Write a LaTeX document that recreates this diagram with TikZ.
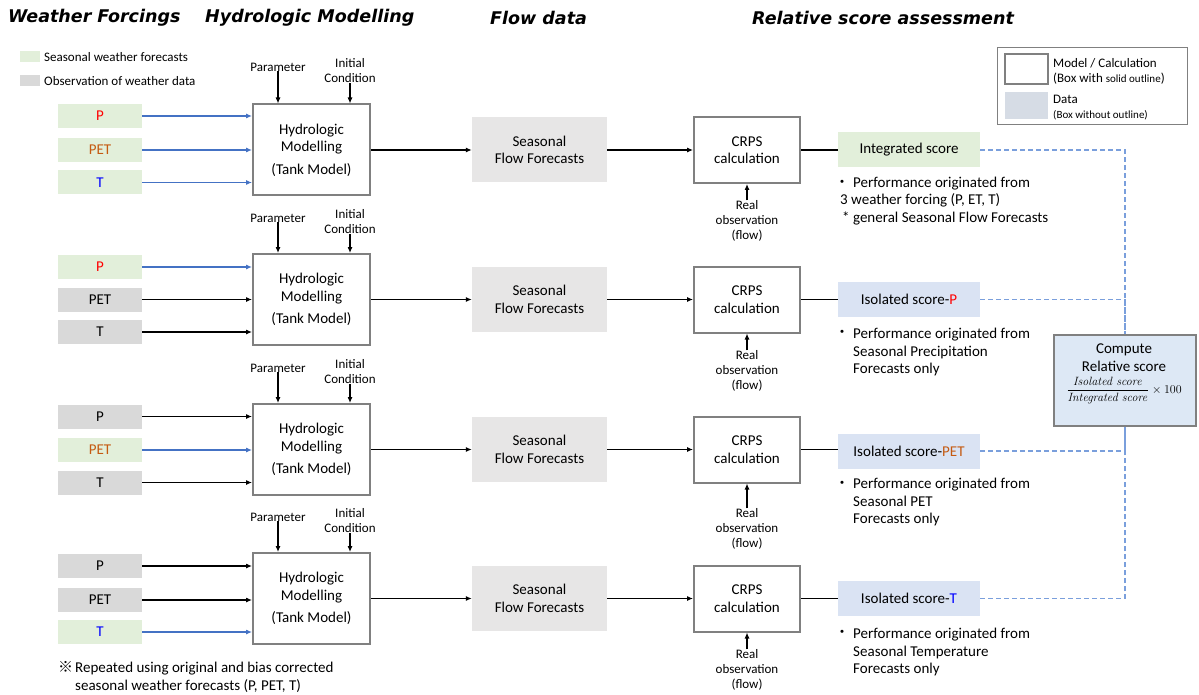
\documentclass[tikz,border=0pt]{standalone}
\usepackage[no-math]{fontspec}
\setmainfont{Carlito}
\newfontfamily\titlefont{DejaVu Sans}
\newfontfamily\cjk{Noto Sans CJK JP}
\usepackage{amsmath}
\usetikzlibrary{arrows.meta}

\definecolor{fcgreen}{HTML}{E2EFDA}
\definecolor{obsgray}{HTML}{D9D9D9}
\definecolor{flowgray}{HTML}{E7E6E6}
\definecolor{scoreblue}{HTML}{DAE3F3}
\definecolor{cmpblue}{HTML}{DDE8F5}
\definecolor{datablue}{HTML}{D6DCE5}
\definecolor{boxgray}{HTML}{808080}
\definecolor{arrblue}{HTML}{4472C4}
\definecolor{dashblue}{HTML}{7A9FDC}
\definecolor{pcol}{HTML}{FF0000}
\definecolor{petcol}{HTML}{C55A11}
\definecolor{tcol}{HTML}{0000FF}

\newcommand{\bodyfont}{\fontsize{15}{17.5}\selectfont}
\newcommand{\smallfont}{\fontsize{13}{15}\selectfont}
\newcommand{\tinyfont}{\fontsize{11}{13}\selectfont}

\begin{document}
\begin{tikzpicture}[x=1pt,y=-1pt,
	every node/.style={font=\bodyfont,inner sep=0pt},
	inbox/.style={rectangle,minimum width=84pt,minimum height=24pt},
	fcst/.style={inbox,fill=fcgreen},
	obs/.style={inbox,fill=obsgray},
	model/.style={rectangle,draw=boxgray,line width=2pt,fill=white,align=center},
	hydro/.style={model,minimum width=117pt,minimum height=91pt},
	crps/.style={model,minimum width=106pt,minimum height=66pt},
	flow/.style={rectangle,fill=flowgray,minimum width=135pt,minimum height=65pt,align=center},
	score/.style={rectangle,fill=scoreblue,minimum width=142pt,minimum height=35pt},
	lbl/.style={font=\smallfont,align=center},
	bullet/.style={anchor=west,align=left},
	title/.style={anchor=west,font=\titlefont\bfseries\itshape\fontsize{17.5}{20}\selectfont},
	link/.style={-{Latex[length=6pt,width=5pt]},line width=1.1pt},
	fa/.style={link,arrblue},
	dline/.style={dash pattern=on 5pt off 3pt,dashblue,line width=1.2pt}
]

	\useasboundingbox (0,0) rectangle (1199,695);

	\node 	(tw)	at	(8,18)	[title]{Weather Forcings};
	\node 	(th)	at	(205,18)	[title]{Hydrologic Modelling};
	\node 	(tf)	at	(490,18)	[title]{Flow data};
	\node 	(tr)	at	(752,18)	[title]{Relative score assessment};

	\node 	(sw1)	at	(30,56.5)	[rectangle,fill=fcgreen,minimum width=20pt,minimum height=11pt]{};
	\node 	(sw1t)	at	(44,57)	[anchor=west,font=\smallfont]{Seasonal weather forecasts};
	\node 	(sw2)	at	(30,80.5)	[rectangle,fill=obsgray,minimum width=20pt,minimum height=11pt]{};
	\node 	(sw2t)	at	(44,81)	[anchor=west,font=\smallfont]{Observation of weather data};

	\node 	(lgbox)	at	(1092,86.5)	[rectangle,draw=boxgray,line width=1pt,minimum width=190pt,minimum height=77pt]{};
	\node 	(lgm)	at	(1026.5,69)	[rectangle,draw=boxgray,line width=2pt,minimum width=43pt,minimum height=30pt]{};
	\node 	(lgd)	at	(1026.5,105.5)	[rectangle,fill=datablue,minimum width=43pt,minimum height=27pt]{};
	\node 	(lgmt)	at	(1053,71)	[anchor=west,align=left,font=\smallfont]{Model / Calculation\\(Box with {\tinyfont solid outline})};
	\node 	(lgdt)	at	(1053,108)	[anchor=west,align=left,font=\smallfont]{Data\\{\tinyfont (Box without outline)}};

	% forcing set 1
	\node 	(p1)	at	(100,116)	[fcst]{\textcolor{pcol}{P}};
	\node 	(pet1)	at	(100,150)	[fcst]{\textcolor{petcol}{PET}};
	\node 	(t1)	at	(100,182.5)	[fcst]{\textcolor{tcol}{T}};
	\node 	(h1)	at	(311.5,150)	[hydro]{Hydrologic\\Modelling\\[5pt](Tank Model)};
	\node 	(par1)	at	(278,67)	[lbl]{Parameter};
	\node 	(ic1)	at	(350,71)	[lbl]{Initial\\Condition};
	\node 	(f1)	at	(539.5,150)	[flow]{Seasonal\\Flow Forecasts};
	\node 	(c1)	at	(747,150)	[crps]{CRPS\\calculation};
	\node 	(ro1)	at	(747,221)	[lbl]{Real\\observation\\(flow)};
	\node 	(s1)	at	(909,150)	[score,fill=fcgreen]{Integrated score};
	\node 	(d1)	at	(842,184)	{\cjk ・};
	\node 	(b1)	at	(840,201)	[bullet]{\hspace*{13pt}Performance originated from\\3 weather forcing (P, ET, T)\\\hspace*{2pt}* general Seasonal Flow Forecasts};

	% forcing set 2
	\node 	(p2)	at	(100,267)	[fcst]{\textcolor{pcol}{P}};
	\node 	(pet2)	at	(100,299.5)	[obs]{PET};
	\node 	(t2)	at	(100,332)	[obs]{T};
	\node 	(h2)	at	(311.5,299.5)	[hydro]{Hydrologic\\Modelling\\[5pt](Tank Model)};
	\node 	(par2)	at	(278,218)	[lbl]{Parameter};
	\node 	(ic2)	at	(350,221.5)	[lbl]{Initial\\Condition};
	\node 	(f2)	at	(539.5,299.5)	[flow]{Seasonal\\Flow Forecasts};
	\node 	(c2)	at	(747,299.5)	[crps]{CRPS\\calculation};
	\node 	(ro2)	at	(747,371)	[lbl]{Real\\observation\\(flow)};
	\node 	(s2)	at	(909,299.5)	[score]{Isolated score-\textcolor{pcol}{P}};
	\node 	(d2)	at	(842,334)	{\cjk ・};
	\node 	(b2)	at	(853,352)	[bullet]{Performance originated from\\Seasonal Precipitation\\Forecasts only};

	% forcing set 3
	\node 	(p3)	at	(100,416.5)	[obs]{P};
	\node 	(pet3)	at	(100,450)	[fcst]{\textcolor{petcol}{PET}};
	\node 	(t3)	at	(100,482.5)	[obs]{T};
	\node 	(h3)	at	(311.5,449.5)	[hydro]{Hydrologic\\Modelling\\[5pt](Tank Model)};
	\node 	(par3)	at	(278,368)	[lbl]{Parameter};
	\node 	(ic3)	at	(350,371.5)	[lbl]{Initial\\Condition};
	\node 	(f3)	at	(539.5,449.5)	[flow]{Seasonal\\Flow Forecasts};
	\node 	(c3)	at	(747,449.5)	[crps]{CRPS\\calculation};
	\node 	(ro3)	at	(747,529)	[lbl]{Real\\observation\\(flow)};
	\node 	(s3)	at	(909,451)	[score]{Isolated score-\textcolor{petcol}{PET}};
	\node 	(d3)	at	(842,485)	{\cjk ・};
	\node 	(b3)	at	(853,502)	[bullet]{Performance originated from\\Seasonal PET\\Forecasts only};

	% forcing set 4
	\node 	(p4)	at	(100,566)	[obs]{P};
	\node 	(pet4)	at	(100,600)	[obs]{PET};
	\node 	(t4)	at	(100,632)	[fcst]{\textcolor{tcol}{T}};
	\node 	(h4)	at	(311.5,598.5)	[hydro]{Hydrologic\\Modelling\\[5pt](Tank Model)};
	\node 	(par4)	at	(278,517)	[lbl]{Parameter};
	\node 	(ic4)	at	(350,520.5)	[lbl]{Initial\\Condition};
	\node 	(f4)	at	(539.5,598.5)	[flow]{Seasonal\\Flow Forecasts};
	\node 	(c4)	at	(747,598.5)	[crps]{CRPS\\calculation};
	\node 	(ro4)	at	(747,670)	[lbl]{Real\\observation\\(flow)};
	\node 	(s4)	at	(909,598.5)	[score]{Isolated score-\textcolor{tcol}{T}};
	\node 	(d4)	at	(842,634)	{\cjk ・};
	\node 	(b4)	at	(853,652)	[bullet]{Performance originated from\\Seasonal Temperature\\Forecasts only};

	\node 	(cmp)	at	(1125,380.5)	[model,fill=cmpblue,minimum width=142pt,minimum height=91pt]{};
	\node 	(cmpt)	at	(1124,374)	[align=center]{Compute\\Relative score\\[5pt]{\fontsize{13}{15}\selectfont$\dfrac{\mathit{Isolated\ score}}{\mathit{Integrated\ score}}\times 100$}};

	\node 	(rp)	at	(58,677)	[anchor=west,align=left]{{\cjk ※}\hspace{2pt}Repeated using original and bias corrected\\\phantom{{\cjk ※}\hspace{2pt}}seasonal weather forecasts (P, PET, T)};

	\draw[fa]	(p1)	--	(p1 -| h1.west);
	\draw[fa]	(pet1)	--	(pet1 -| h1.west);
	\draw[fa]	(t1)	--	(t1 -| h1.west);
	\draw[fa]	(p2)	--	(p2 -| h2.west);
	\draw[link]	(pet2)	--	(pet2 -| h2.west);
	\draw[link]	(t2)	--	(t2 -| h2.west);
	\draw[link]	(p3)	--	(p3 -| h3.west);
	\draw[fa]	(pet3)	--	(pet3 -| h3.west);
	\draw[link]	(t3)	--	(t3 -| h3.west);
	\draw[link]	(p4)	--	(p4 -| h4.west);
	\draw[link]	(pet4)	--	(pet4 -| h4.west);
	\draw[fa]	(t4)	--	(t4 -| h4.west);

	\draw[link]	(par1)	--	(par1 |- h1.north);
	\draw[link]	(ic1)	--	(ic1 |- h1.north);
	\draw[link]	(par2)	--	(par2 |- h2.north);
	\draw[link]	(ic2)	--	(ic2 |- h2.north);
	\draw[link]	(par3)	--	(par3 |- h3.north);
	\draw[link]	(ic3)	--	(ic3 |- h3.north);
	\draw[link]	(par4)	--	(par4 |- h4.north);
	\draw[link]	(ic4)	--	(ic4 |- h4.north);

	\draw[link]	(h1)	--	(f1);
	\draw[link]	(f1)	--	(c1);
	\draw[link]	(h2)	--	(f2);
	\draw[link]	(f2)	--	(c2);
	\draw[link]	(h3)	--	(f3);
	\draw[link]	(f3)	--	(c3);
	\draw[link]	(h4)	--	(f4);
	\draw[link]	(f4)	--	(c4);

	\draw[link]	(ro1)	--	(c1);
	\draw[link]	(ro2)	--	(c2);
	\draw[link]	(ro3)	--	(c3);
	\draw[link]	(ro4)	--	(c4);

	\draw[line width=1.1pt]	(c1)	--	(s1);
	\draw[line width=1.1pt]	(c2)	--	(s2);
	\draw[line width=1.1pt]	(c3)	--	(c3 -| s3.west);
	\draw[line width=1.1pt]	(c4)	--	(s4);

	\draw[dline]	(s1)	-|	(cmp.north);
	\draw[dline]	(s2)	-|	(cmp.north);
	\draw[dline]	(s3)	-|	(cmp.south);
	\draw[dline]	(s4)	-|	(cmp.south);

\end{tikzpicture}
\end{document}
